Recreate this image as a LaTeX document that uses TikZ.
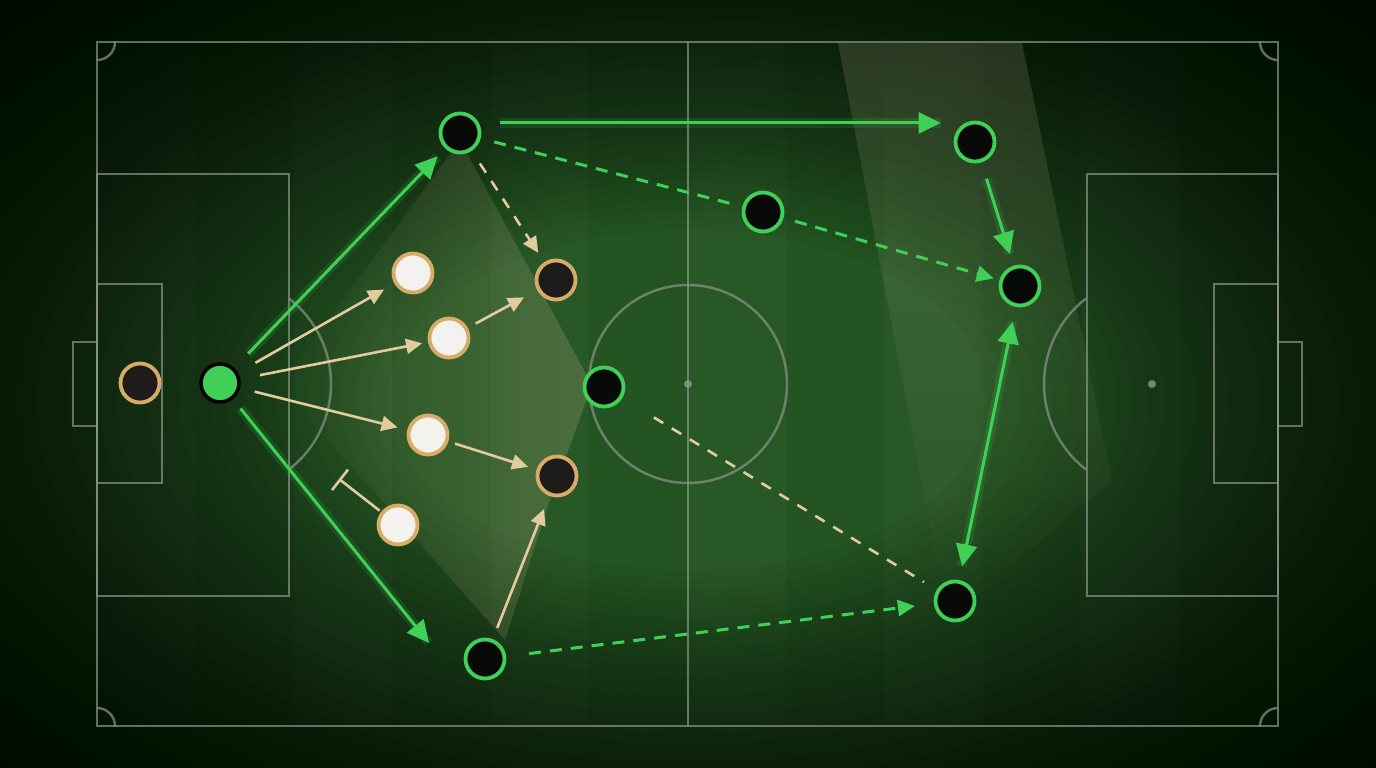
\documentclass[tikz,border=0pt]{standalone}
\usepackage{tikz}
\usetikzlibrary{arrows.meta,fadings,calc}

\definecolor{runGreen}{RGB}{64,208,88}
\definecolor{ringGold}{RGB}{214,172,104}
\definecolor{tanLine}{RGB}{226,203,158}
\definecolor{rivalWhite}{RGB}{243,242,238}
\definecolor{rivalDark}{RGB}{30,28,26}
\definecolor{mateBlack}{RGB}{8,10,8}
\definecolor{lineGrey}{RGB}{140,150,140}
\definecolor{bgMid}{RGB}{36,84,34}
\definecolor{bandTint}{RGB}{232,218,175}

\tikzfading[name=fadeleft, left color=transparent!100, right color=transparent!10]
\tikzfading[name=fadedown, top color=transparent!40, middle color=transparent!0, bottom color=transparent!100]

\begin{document}
\begin{tikzpicture}[x=1pt, y=-1pt,
pitchline/.style={draw=lineGrey, line width=2.4pt, opacity=0.7},
mate/.style={circle, draw=runGreen, fill=mateBlack, line width=3.8pt, minimum size=39pt, inner sep=0pt},
rival/.style={circle, draw=ringGold, fill=rivalWhite, line width=3.8pt, minimum size=39pt, inner sep=0pt},
rivaldark/.style={rival, fill=rivalDark},
carrier/.style={circle, draw=black, fill=runGreen, line width=3.5pt, minimum size=38pt, inner sep=0pt},
run/.style={draw=runGreen, line width=3pt, -{Triangle[length=22pt,width=21pt]},
  preaction={draw=runGreen, line width=10pt, opacity=0.15, -}},
pass/.style={draw=tanLine, line width=2.6pt, -{Triangle[length=16pt,width=15pt]}},
greendash/.style={draw=runGreen, line width=3pt, dash pattern=on 12pt off 9pt},
tandash/.style={draw=tanLine, line width=2.6pt, dash pattern=on 11pt off 10pt}
]

\def \W {1376}
\def \H {768}
\useasboundingbox (0,0) rectangle (\W,\H);

% grass, darkened towards the edges
\fill[bgMid] (0,0) rectangle (\W,\H);
\foreach \i in {0,2,...,10}
  \fill[white, opacity=0.025] ({97+\i*98.4},42) rectangle +(98.4,684);
\foreach \k in {0,...,39}
  \fill[black, opacity=0.037, even odd rule] (-10,-10) rectangle (1386,778)
    (688,400) ellipse ({300+16*\k} and {170+9.6*\k});

% highlighted zones
\fill[tanLine, opacity=0.22, path fading=fadeleft]
  (460,140) -- (592,385) -- (548,505) -- (505,640) -- (280,385) -- cycle;
\fill[bandTint, opacity=0.24, path fading=fadedown]
  (838,42) -- (1022,42) -- (1112,480) -- (948,620) -- cycle;

% pitch markings
\draw[pitchline] (97,42) rectangle (1278,726);
\draw[pitchline] (688,42) -- (688,726);
\draw[pitchline] (688,384) circle (99);
\fill[lineGrey, opacity=0.8] (688,384) circle (4);
\fill[lineGrey, opacity=0.8] (1152,384) circle (4);
\draw[pitchline] (97,174) rectangle (289,596);
\draw[pitchline] (1087,174) rectangle (1278,596);
\draw[pitchline] (97,284) rectangle (162,483);
\draw[pitchline] (1214,284) rectangle (1278,483);
\draw[pitchline] (73,342) rectangle (97,426);
\draw[pitchline] (1278,342) rectangle (1302,426);
\draw[pitchline] (223,384) ++(-52.4:108) arc (-52.4:52.4:108);
\draw[pitchline] (1152,384) ++(127.6:108) arc (127.6:232.4:108);
\foreach \x/\y/\a in {97/42/0, 1278/42/90, 1278/726/180, 97/726/270}
  \draw[pitchline] (\x,\y) ++(\a:18) arc (\a:\a+90:18);

% players
\node[rivaldark] (keeper) at (140,383) {};
\node[carrier] (carrier) at (220,383) {};
\node[rival] (def1) at (413,273) {};
\node[rival] (def2) at (449,338) {};
\node[rival] (def3) at (428,435) {};
\node[rival] (def4) at (398,525) {};
\node[rivaldark] (mid1) at (556,280) {};
\node[rivaldark] (mid2) at (557,476) {};
\node[mate] (wingL) at (460,133) {};
\node[mate] (pivot) at (604,387) {};
\node[mate] (link) at (763,212) {};
\node[mate] (wingR) at (975,142) {};
\node[mate] (striker) at (1020,286) {};
\node[mate] (runner) at (955,601) {};
\node[mate] (wingB) at (485,659) {};
\coordinate (wingBrun) at (429,643);
\coordinate (block) at (339,479);

% runs
\draw[run, shorten <=20pt, shorten >=11pt] (carrier) -- (wingL);
\draw[run, shorten <=12pt] (carrier) -- (wingBrun);
\draw[run, shorten <=21pt, shorten >=13pt] (wingL.28) -- (wingL.28 -| wingR.west);
\draw[run, shorten <=17pt, shorten >=12pt] (wingR) -- (striker);
\draw[run, {Triangle[length=22pt,width=21pt]}-{Triangle[length=22pt,width=21pt]},
  shorten <=15pt, shorten >=14pt] (striker) -- (runner);

% passes
\draw[pass, shorten <=20pt, shorten >=12pt] (carrier) -- (def1);
\draw[pass, shorten <=20pt, shorten >=6pt] (carrier) -- (def2);
\draw[pass, shorten <=15pt, shorten >=10pt] (carrier) -- (def3);
\draw[draw=tanLine, line width=2.6pt, -{Bar[width=26pt,line width=2.6pt]}, shorten <=2pt] (def4) -- (block);
\draw[pass, shorten <=9pt, shorten >=15pt] (def2) -- (mid1);
\draw[pass, shorten <=7pt, shorten >=9pt] (def3) -- (mid2);
\draw[pass, shorten <=12pt, shorten >=14pt] (wingB) -- (mid2);
\draw[tandash, -{Triangle[length=16pt,width=15pt]}, shorten <=15pt, shorten >=11pt] (wingL) -- (mid1);
\draw[tandash, shorten <=37pt, shorten >=15pt] (pivot) -- (runner);

% through balls
\draw[greendash, shorten <=14pt, shorten >=12pt] (wingL) -- (link);
\draw[greendash, -{Triangle[length=17pt,width=16pt]}, shorten <=12pt, shorten >=6pt] (link) -- (striker);
\draw[greendash, -{Triangle[length=17pt,width=16pt]}, shorten <=23pt, shorten >=19pt] (wingB) -- (runner);

\end{tikzpicture}
\end{document}
